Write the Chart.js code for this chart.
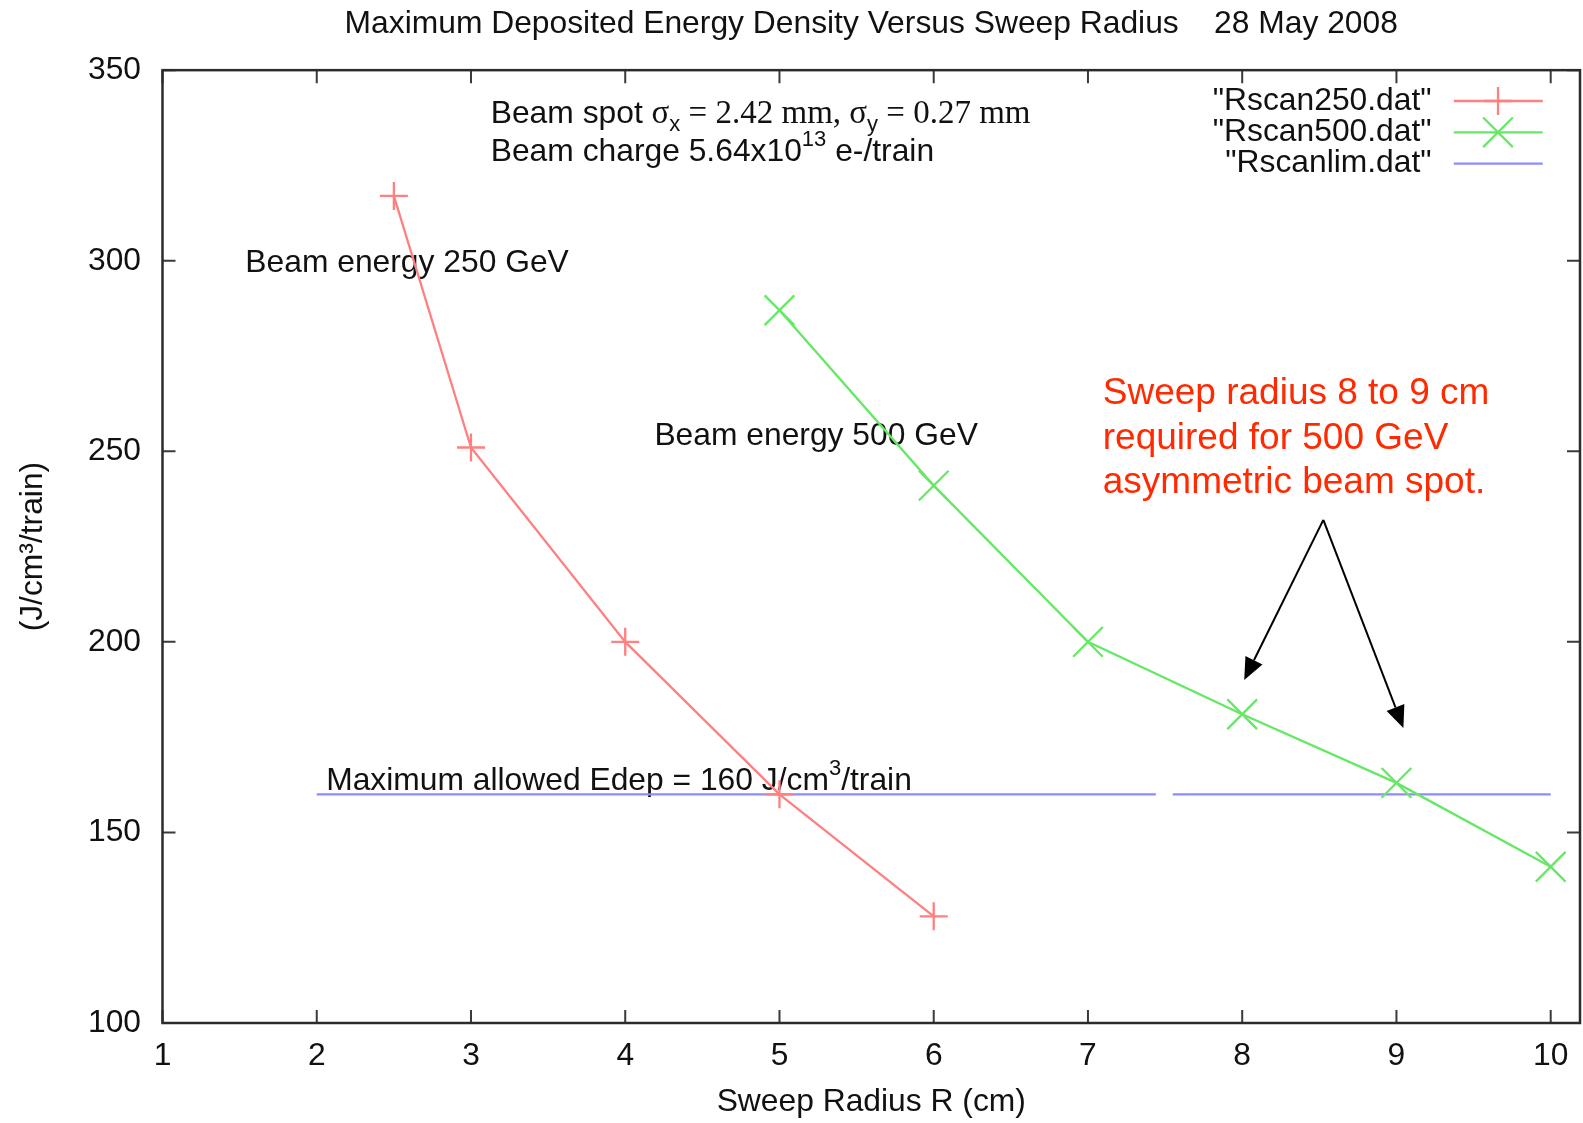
<!DOCTYPE html>
<html>
<head>
<meta charset="utf-8">
<script src="https://cdn.jsdelivr.net/npm/chart.js@4.4.1/dist/chart.umd.min.js"></script>
<style>html,body{margin:0;padding:0;background:#fff;}canvas{display:block;}</style>
</head>
<body>
<canvas id="c" width="1583" height="1123"></canvas>
<script>
// ---- data ----
const rscan250X = [2.5, 3, 4, 5, 6];
const rscan250Y = [317, 251, 200, 160, 128];
const rscan500X = [5, 6, 7, 8, 9, 10];
const rscan500Y = [287, 241, 200, 181, 163, 141];
const rscanlimX = [2, 7.44, 7.5, 7.55, 10];
const rscanlimY = [160, 160, null, 160, 160];
const seriesNames = ['"Rscan250.dat"', '"Rscan500.dat"', '"Rscanlim.dat"'];
const xTicks = [1, 2, 3, 4, 5, 6, 7, 8, 9, 10];
const yTicks = [100, 150, 200, 250, 300, 350];
const chartTitle = 'Maximum Deposited Energy Density Versus Sweep Radius    28 May 2008';
const xTitle = 'Sweep Radius R (cm)';
const yTitle = '(J/cm\u00B3/train)';
const noteLines = ['Sweep radius 8 to 9 cm', 'required for 500 GeV', 'asymmetric beam spot.'];

// ---- styles ----
const SANS = "'Liberation Sans', Arial, Helvetica, sans-serif";
const SERIF = "'Liberation Serif', 'Times New Roman', serif";
const FS = 31.8;
const RED = '#ff8080', GREEN = '#66e866', BLUE = '#8c8cff';
const TXT = '#111111';

function pts(xs, ys) { return xs.map((x, i) => ({ x: x, y: ys[i] })); }

function drawRich(ctx, x, cy, segs, color) {
  ctx.save();
  ctx.fillStyle = color;
  ctx.textAlign = 'left';
  ctx.textBaseline = 'alphabetic';
  const base = cy + 0.36 * FS;
  let cx = x;
  for (const s of segs) {
    const t = s[0], fam = s[1], size = s[2], dy = s[3] || 0;
    ctx.font = size + 'px ' + fam;
    ctx.fillText(t, cx, base + dy);
    cx += ctx.measureText(t).width;
  }
  ctx.restore();
}

function drawPlus(ctx, x, y, r, color) {
  ctx.save(); ctx.strokeStyle = color; ctx.lineWidth = 2.3;
  ctx.beginPath(); ctx.moveTo(x - r, y); ctx.lineTo(x + r, y);
  ctx.moveTo(x, y - r); ctx.lineTo(x, y + r); ctx.stroke(); ctx.restore();
}
function drawX(ctx, x, y, r, color) {
  const d = r * Math.SQRT1_2;
  ctx.save(); ctx.strokeStyle = color; ctx.lineWidth = 2.3;
  ctx.beginPath(); ctx.moveTo(x - d, y - d); ctx.lineTo(x + d, y + d);
  ctx.moveTo(x - d, y + d); ctx.lineTo(x + d, y - d); ctx.stroke(); ctx.restore();
}
function arrow(ctx, x0, y0, x1, y1) {
  const ang = Math.atan2(y1 - y0, x1 - x0);
  const L = 22, W = 9.5;
  const bx = x1 - L * Math.cos(ang), by = y1 - L * Math.sin(ang);
  ctx.save();
  ctx.strokeStyle = '#000'; ctx.fillStyle = '#000'; ctx.lineWidth = 2;
  ctx.beginPath(); ctx.moveTo(x0, y0); ctx.lineTo(bx, by); ctx.stroke();
  ctx.beginPath(); ctx.moveTo(x1, y1);
  ctx.lineTo(bx + W * Math.sin(ang), by - W * Math.cos(ang));
  ctx.lineTo(bx - W * Math.sin(ang), by + W * Math.cos(ang));
  ctx.closePath(); ctx.fill();
  ctx.restore();
}

const decorPlugin = {
  id: 'decor',
  beforeDatasetsDraw(chart) {
    const ctx = chart.ctx, a = chart.chartArea;
    const xs = chart.scales.x, ys = chart.scales.y;
    ctx.save();
    ctx.strokeStyle = '#3a3a3a'; ctx.lineWidth = 2;
    ctx.beginPath();
    const TL = 13;
    xTicks.forEach(v => {
      const px = xs.getPixelForValue(v);
      ctx.moveTo(px, a.bottom); ctx.lineTo(px, a.bottom - TL);
      ctx.moveTo(px, a.top); ctx.lineTo(px, a.top + TL);
    });
    yTicks.forEach(v => {
      const py = ys.getPixelForValue(v);
      ctx.moveTo(a.left, py); ctx.lineTo(a.left + TL, py);
      ctx.moveTo(a.right, py); ctx.lineTo(a.right - TL, py);
    });
    ctx.stroke();
    ctx.strokeStyle = '#2b2b2b'; ctx.lineWidth = 2.5;
    ctx.strokeRect(a.left, a.top, a.right - a.left, a.bottom - a.top);
    ctx.restore();

    // text labels (data coordinates)
    const P = (x, y) => [xs.getPixelForValue(x), ys.getPixelForValue(y)];
    let p;
    p = P(3.128, 339.2);
    drawRich(ctx, p[0], p[1], [
      ['Beam spot ', SANS, FS], ['\u03C3', SERIF, 33], ['x', SANS, 22, 8],
      [' = 2.42 mm, ', SERIF, 33], ['\u03C3', SERIF, 33], ['y', SANS, 22, 8],
      [' = 0.27 mm', SERIF, 33]
    ], TXT);
    p = P(3.128, 329.1);
    drawRich(ctx, p[0], p[1], [
      ['Beam charge 5.64x10', SANS, FS], ['13', SANS, 22, -15], [' e-/train', SANS, FS]
    ], TXT);
    p = P(1.537, 300);
    drawRich(ctx, p[0], p[1], [['Beam energy 250 GeV', SANS, FS]], TXT);
    p = P(4.189, 254.7);
    drawRich(ctx, p[0], p[1], [['Beam energy 500 GeV', SANS, FS]], TXT);
    p = P(2.061, 164.2);
    drawRich(ctx, p[0], p[1], [
      ['Maximum allowed Edep = 160 J/cm', SANS, FS], ['3', SANS, 22, -15], ['/train', SANS, FS]
    ], TXT);
  },
  afterDraw(chart) {
    const ctx = chart.ctx;
    const xs = chart.scales.x, ys = chart.scales.y;
    const P = (x, y) => [xs.getPixelForValue(x), ys.getPixelForValue(y)];
    // red note
    const noteY = [265.1, 253.4, 241.8];
    ctx.save();
    ctx.fillStyle = '#ff2a00';
    ctx.font = '37px ' + SANS;
    ctx.textAlign = 'left'; ctx.textBaseline = 'middle';
    noteLines.forEach((t, i) => {
      const q = P(7.096, noteY[i]);
      ctx.fillText(t, q[0], q[1]);
    });
    ctx.restore();
    // arrows
    const apex = P(8.526, 232);
    const t1 = P(8.013, 190), t2 = P(9.045, 177.4);
    arrow(ctx, apex[0], apex[1], t1[0], t1[1]);
    arrow(ctx, apex[0], apex[1], t2[0], t2[1]);
    // legend
    const rowsY = [101, 132.3, 163.6];
    const colors = [RED, GREEN, BLUE];
    ctx.save();
    ctx.font = FS + 'px ' + SANS;
    ctx.fillStyle = TXT; ctx.textAlign = 'right'; ctx.textBaseline = 'middle';
    seriesNames.forEach((n, i) => {
      ctx.fillText(n, 1431.6, rowsY[i]);
      ctx.strokeStyle = colors[i]; ctx.lineWidth = 2.3;
      ctx.beginPath(); ctx.moveTo(1453.8, rowsY[i]); ctx.lineTo(1542.7, rowsY[i]); ctx.stroke();
    });
    ctx.restore();
    drawPlus(ctx, 1498, rowsY[0], 14, RED);
    drawX(ctx, 1498, rowsY[1], 21, GREEN);
  }
};

new Chart(document.getElementById('c'), {
  type: 'scatter',
  data: {
    datasets: [
      { label: seriesNames[0], data: pts(rscan250X, rscan250Y), showLine: true,
        borderColor: RED, borderWidth: 2.3, pointStyle: 'cross', pointRadius: 14,
        pointBorderColor: RED, pointBorderWidth: 2.3, pointBackgroundColor: 'transparent' },
      { label: seriesNames[1], data: pts(rscan500X, rscan500Y), showLine: true,
        borderColor: GREEN, borderWidth: 2.3, pointStyle: 'crossRot', pointRadius: 21,
        pointBorderColor: GREEN, pointBorderWidth: 2.3, pointBackgroundColor: 'transparent' },
      { label: seriesNames[2], data: pts(rscanlimX, rscanlimY), showLine: true, spanGaps: false,
        borderColor: BLUE, borderWidth: 2.3, pointRadius: 0 }
    ]
  },
  options: {
    responsive: false,
    animation: false,
    devicePixelRatio: 1,
    layout: { autoPadding: false, padding: { top: 0, right: 3, left: 0, bottom: 0 } },
    plugins: {
      legend: { display: false },
      tooltip: { enabled: false },
      title: {
        display: true, text: chartTitle, fullSize: false, color: TXT,
        font: { family: SANS, size: FS, weight: 'normal' },
        padding: { top: 5, bottom: 27 }
      }
    },
    scales: {
      x: {
        type: 'linear', position: 'bottom', min: 1, max: 10.19,
        afterBuildTicks: s => { s.ticks = xTicks.map(v => ({ value: v })); },
        afterFit: s => { s.height = 100; s.paddingLeft = 0; s.paddingRight = 0; },
        grid: { display: false, drawTicks: false },
        border: { display: false },
        ticks: { color: TXT, font: { family: SANS, size: FS }, padding: 14, maxRotation: 0, autoSkip: false },
        title: { display: true, text: xTitle, color: TXT, font: { family: SANS, size: FS }, padding: { top: 0, bottom: 1.6 } }
      },
      y: {
        type: 'linear', position: 'left', min: 100, max: 350,
        afterBuildTicks: s => { s.ticks = yTicks.map(v => ({ value: v })); },
        afterFit: s => { s.width = 162.5; s.paddingTop = 0; s.paddingBottom = 0; },
        grid: { display: false, drawTicks: false },
        border: { display: false },
        ticks: { color: TXT, font: { family: SANS, size: FS }, padding: 21.5, autoSkip: false },
        title: { display: true, text: yTitle, color: TXT, font: { family: SANS, size: FS }, padding: { top: 14.4, bottom: 0 } }
      }
    }
  },
  plugins: [decorPlugin]
});
</script>
</body>
</html>
